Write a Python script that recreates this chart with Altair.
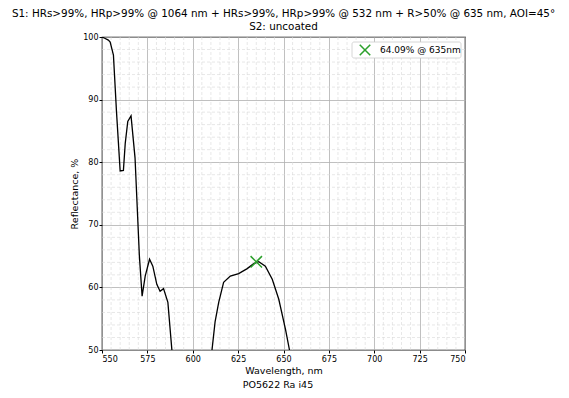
import altair as alt
import pandas as pd

# Reflectance curve; values below 50 are clipped by the axis
wl = [550, 551.5, 553.5, 554.5, 556.3, 558, 560, 561.8, 562.8, 564.2, 566, 568.2, 570.6, 572.1,
      573.8, 576.2, 578, 580.2, 582, 583.9, 586.3, 588.5, 592, 600, 607, 610.6,
      612.3, 614.3, 617, 620.7, 625.3, 630, 633.6, 636.4, 640, 643.8, 647.4, 651.1, 653.3, 657]
refl = [100, 99.8, 99.5, 99.2, 97.1, 88, 78.6, 78.7, 83, 86.5, 87.4, 80.7, 65, 58.6,
        61.8, 64.5, 63.4, 60.5, 59.4, 59.8, 57.6, 50, 40, 32, 42, 50,
        54.5, 57.6, 60.8, 61.8, 62.2, 63, 63.8, 64.1, 63.4, 61.3, 58.1, 53.3, 50, 42]

peak_wl = [635]
peak_r = [64.09]
legend_label = ["64.09% @ 635nm"]

x_major = [550, 575, 600, 625, 650, 675, 700, 725, 750]
y_major = [50, 60, 70, 80, 90, 100]
x_minor = [v for v in range(555, 750, 5) if v % 25 != 0]
y_minor = [v for v in range(52, 100, 2) if v % 10 != 0]

title_lines = ["S1: HRs>99%, HRp>99% @ 1064 nm + HRs>99%, HRp>99% @ 532 nm + R>50% @ 635 nm, AOI=45°",
               "S2: uncoated"]
footer = ["PO5622 Ra i45"]

W, H = 363, 313
FONT = "DejaVu Sans"

xs = alt.Scale(domain=[550, 750], nice=False, zero=False)
ys = alt.Scale(domain=[50, 100], nice=False, zero=False)

curve = pd.DataFrame({"wl": wl, "r": refl})
peak = pd.DataFrame({"wl": peak_wl, "r": peak_r})

xminor_df = pd.DataFrame({"v": x_minor})
yminor_df = pd.DataFrame({"v": y_minor})

grid_minor_x = alt.Chart(xminor_df).mark_rule(color="#d6d6d6", strokeWidth=0.6, strokeDash=[3, 2]).encode(
    x=alt.X("v:Q", scale=xs))
grid_minor_y = alt.Chart(yminor_df).mark_rule(color="#d6d6d6", strokeWidth=0.6, strokeDash=[3, 2]).encode(
    y=alt.Y("v:Q", scale=ys))

line = alt.Chart(curve).mark_line(color="black", strokeWidth=1.3, clip=True).encode(
    x=alt.X("wl:Q", scale=xs, title="Wavelength, nm",
            axis=alt.Axis(values=x_major, format="d", grid=True, gridColor="#b0b0b0", gridWidth=0.8,
                          tickSize=3, tickColor="black", labelPadding=2, titlePadding=2,
                          domain=False)),
    y=alt.Y("r:Q", scale=ys, title="Reflectance, %",
            axis=alt.Axis(values=y_major, format="d", grid=True, gridColor="#b0b0b0", gridWidth=0.8,
                          tickSize=3, tickColor="black", labelPadding=1, titlePadding=3,
                          domain=False)),
    order="wl:Q",
)

xshape = "M-1,-1L1,1M-1,1L1,-1"
marker = alt.Chart(peak).mark_point(shape=xshape, color="#2ca02c", filled=False, strokeWidth=1.5,
                                    size=130, opacity=1).encode(x=alt.X("wl:Q", scale=xs), y=alt.Y("r:Q", scale=ys))

leg_df = pd.DataFrame({"label": legend_label})
leg_box = alt.Chart(leg_df).mark_rect(fill="white", stroke="#cccccc", strokeWidth=0.8, cornerRadius=2).encode(
    x=alt.value(250), x2=alt.value(359), y=alt.value(5), y2=alt.value(21))
leg_sym = alt.Chart(leg_df).mark_point(shape=xshape, color="#2ca02c", filled=False, strokeWidth=1.5,
                                       size=110, opacity=1).encode(x=alt.value(263), y=alt.value(13))
leg_txt = alt.Chart(leg_df).mark_text(align="left", baseline="middle", font=FONT, fontSize=9, color="black").encode(
    x=alt.value(278), y=alt.value(13), text="label:N")

foot = alt.Chart(pd.DataFrame({"t": footer})).mark_text(align="center", baseline="middle", font=FONT,
                                                        fontSize=9.5, color="black").encode(
    x=alt.value(176), y=alt.value(348), text="t:N")

chart = alt.layer(grid_minor_x, grid_minor_y, line, marker, leg_box, leg_sym, leg_txt, foot).properties(
    width=W, height=H,
    autosize=alt.AutoSizeParams(type="none"),
    padding={"left": 94, "top": 29, "right": 90, "bottom": 40},
    title=alt.Title(title_lines, font=FONT, fontSize=10.4, fontWeight="normal", color="black",
                    anchor="middle", offset=1, lineHeight=12.5),
).configure_view(stroke="black", strokeWidth=1.2).configure_axis(
    labelFont=FONT, labelFontSize=8, labelColor="black", titleFont=FONT, titleFontSize=9.5,
    titleFontWeight="normal", titleColor="black",
)

chart.save("out.html", embed_options={"renderer": "svg", "actions": False})
